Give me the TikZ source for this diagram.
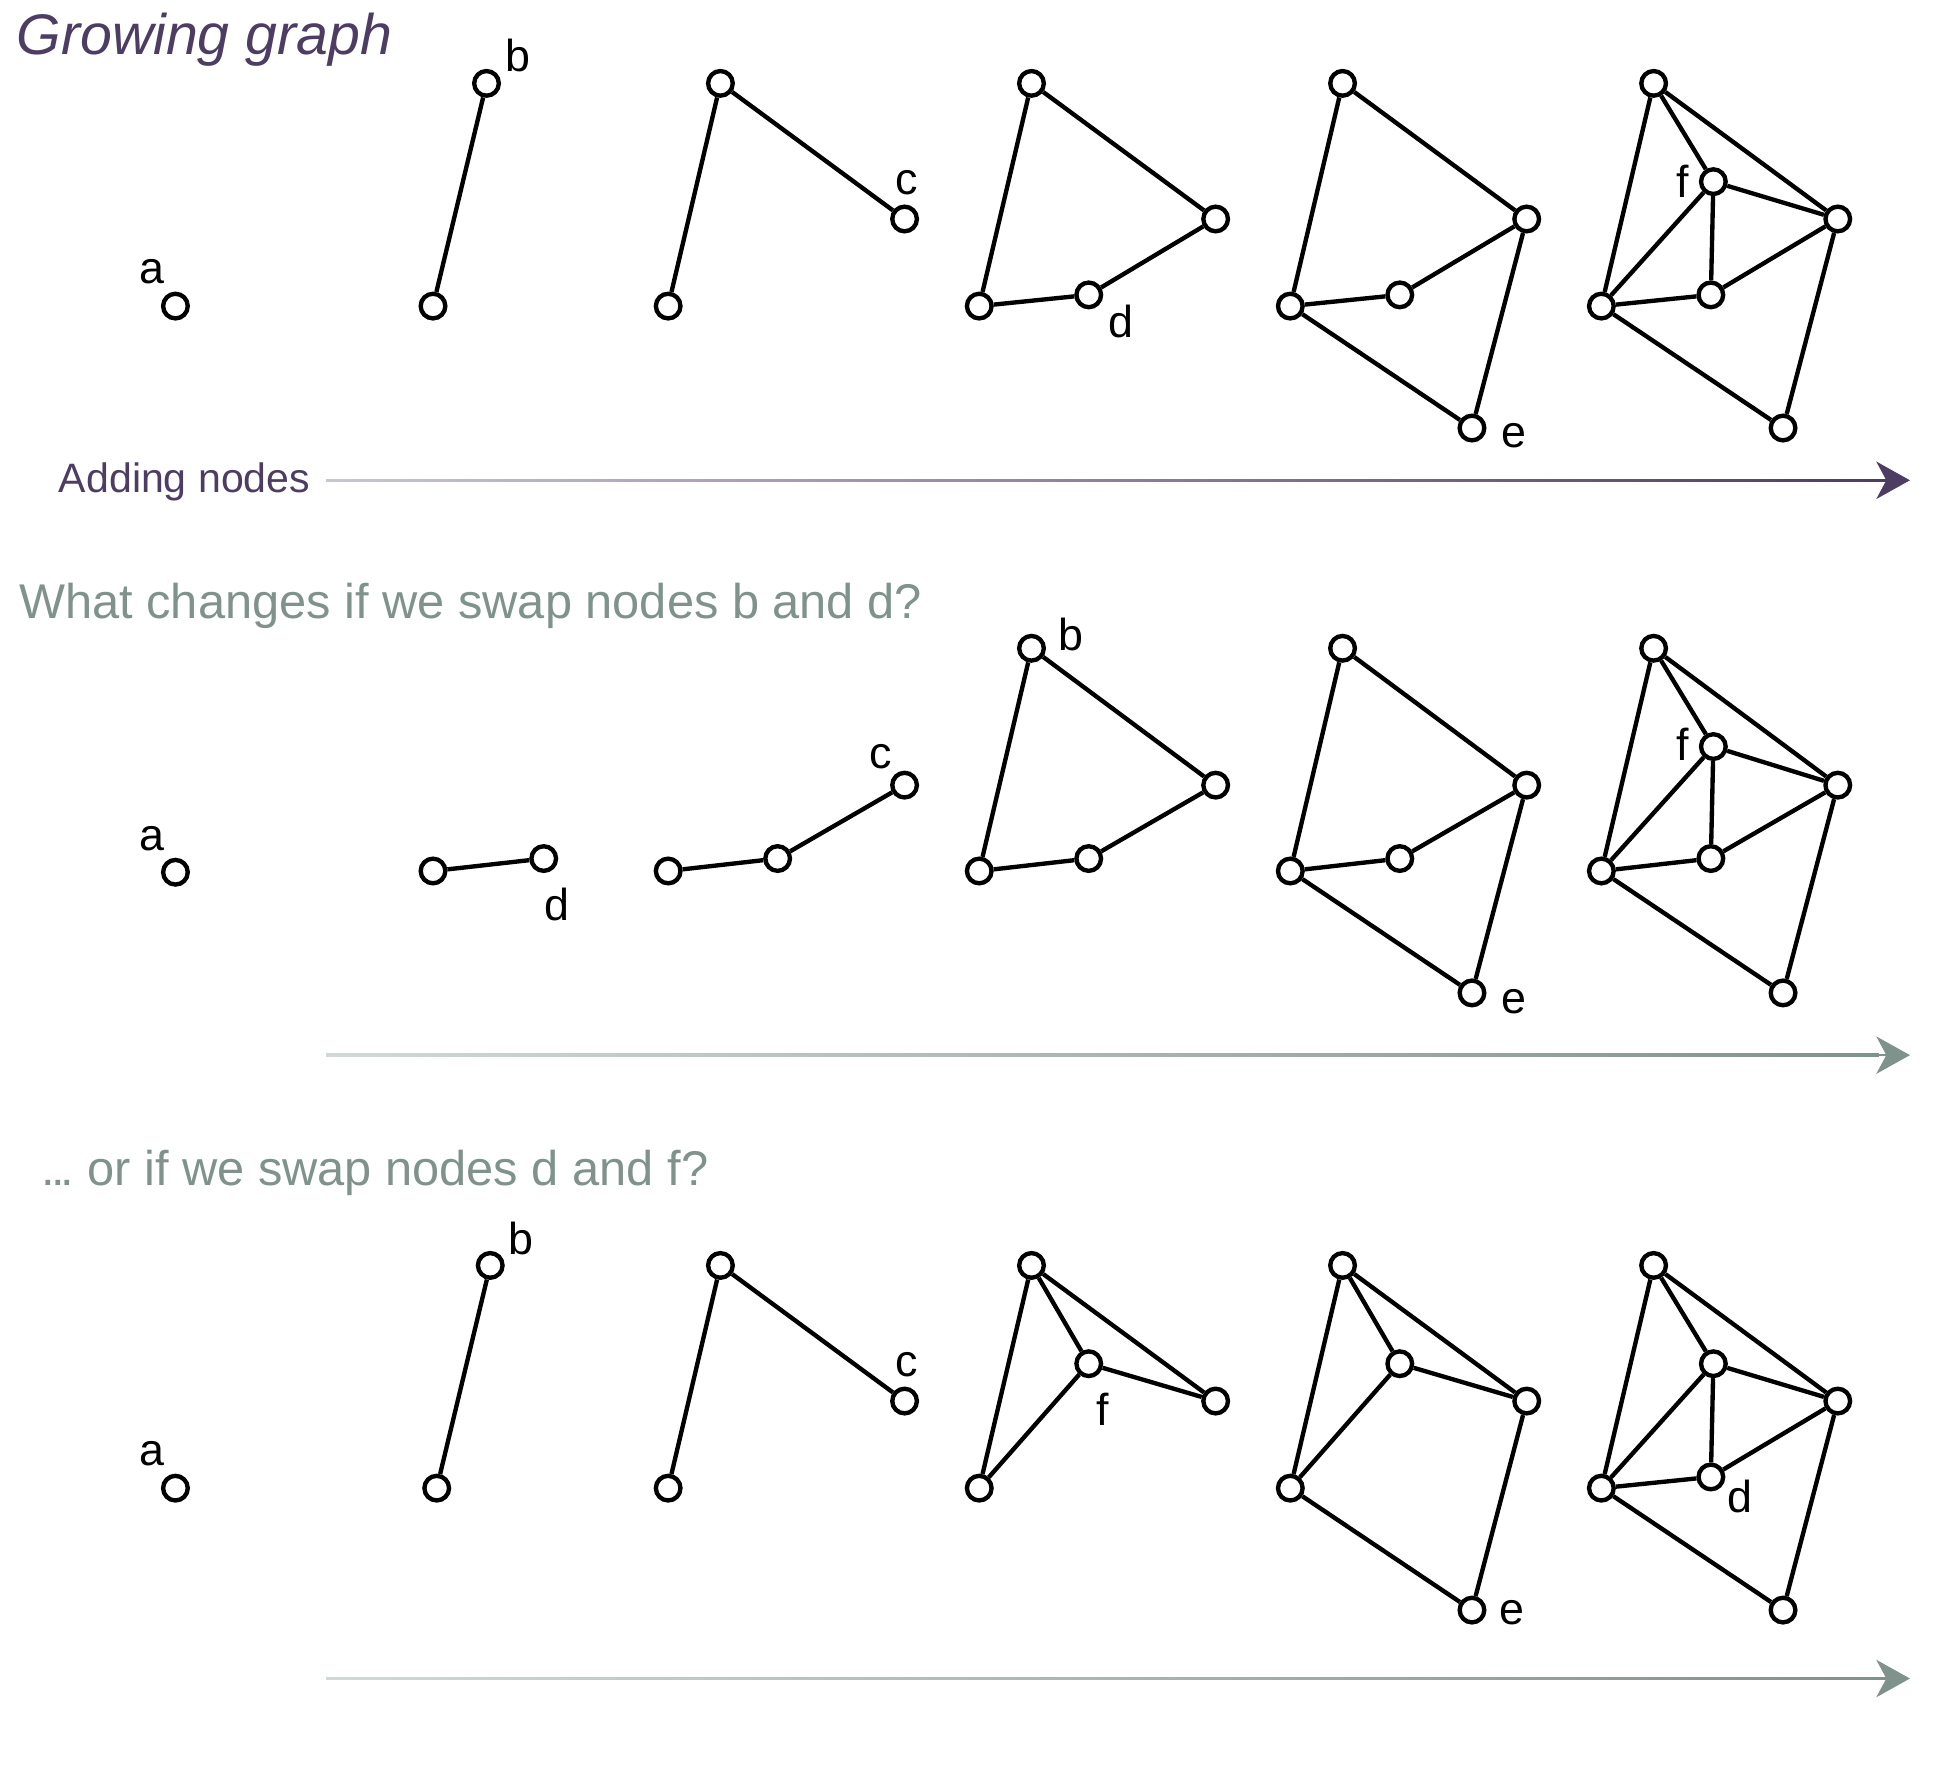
\documentclass[tikz,border=0pt]{standalone}
\usepackage{fontspec}
\setmainfont{Liberation Sans}
\usetikzlibrary{arrows.meta}
\definecolor{purp}{RGB}{78,61,99}
\definecolor{sage}{RGB}{127,146,139}
\begin{document}
\begin{tikzpicture}[x=0.5pt,y=-0.5pt,
  vtx/.style={circle,draw=black,line width=1.75pt,minimum size=9.9pt,inner sep=0pt,fill=white},
  lbl/.style={inner sep=0pt,font=\fontsize{18}{20}\selectfont},
  edg/.style={line width=1.75pt,black},
  ttl/.style={inner sep=0pt,anchor=base west},
  arr/.style={line width=1pt,-{Stealth[length=13.5pt,width=15pt,inset=4pt]}}]
\useasboundingbox (0,0) rectangle (1568,1423);

% ---------- texts
\node[ttl,purp,font=\fontsize{23}{26}\selectfont\itshape] (title) at (13,44) {Growing graph};
\node[ttl,purp,font=\fontsize{16.5}{20}\selectfont] (adding) at (47,396) {Adding nodes};
\node[ttl,sage,font=\fontsize{19.6}{23}\selectfont] (q1) at (15,497) {What changes if we swap nodes b and d?};
\node[ttl,sage,font=\fontsize{19.6}{23}\selectfont] (q2) at (33,953) {.\kern-1.6pt.\kern-1.6pt.\kern-2pt{} or if we swap nodes d and f?};

% ---------- arrows
\coordinate (s1) at (262,386); \coordinate (m1) at (1505,386); \coordinate (t1) at (1535,386);
\coordinate (s2) at (262,848); \coordinate (m2) at (1505,848); \coordinate (t2) at (1535,848);
\coordinate (s3) at (262,1349); \coordinate (m3) at (1505,1349); \coordinate (t3) at (1535,1349);
\shade[left color=purp!30,right color=purp] (262,385) rectangle (1510,387);
\draw[arr,purp] (m1) -- (t1);
\shade[left color=sage!35,right color=sage] (262,847) rectangle (1510,849);
\draw[arr,sage] (m2) -- (t2);
\shade[left color=sage!35,right color=sage] (262,1348) rectangle (1510,1350);
\draw[arr,sage] (m3) -- (t3);

% ================= ROW 1
\node[vtx] (r1a) at (141,246) {};
\node[lbl] (r1la) at (122,218) {a};
% panel 2
\node[vtx] (r1p2x) at (348,246) {};
\node[vtx] (r1p2b) at (391,67) {};
\node[lbl] (r1lb) at (416,45) {b};
\draw[edg] (r1p2x) -- (r1p2b);
% panel 3
\node[vtx] (r1p3x) at (537,246) {};
\node[vtx] (r1p3b) at (579,67) {};
\node[vtx] (r1p3c) at (727,176) {};
\node[lbl] (r1lc) at (729,147) {c};
\draw[edg] (r1p3x) -- (r1p3b) -- (r1p3c);
% panel 4
\node[vtx] (r1p4x) at (787,246) {};
\node[vtx] (r1p4b) at (829,67) {};
\node[vtx] (r1p4c) at (977,176) {};
\node[vtx] (r1p4d) at (875,237) {};
\node[lbl] (r1ld) at (901,258) {d};
\draw[edg] (r1p4x) -- (r1p4b) -- (r1p4c) -- (r1p4d) -- (r1p4x);
% panel 5
\node[vtx] (r1p5x) at (1037,246) {};
\node[vtx] (r1p5b) at (1079,67) {};
\node[vtx] (r1p5c) at (1227,176) {};
\node[vtx] (r1p5d) at (1125,237) {};
\node[vtx] (r1p5e) at (1183,344) {};
\node[lbl] (r1le) at (1217,350) {e};
\draw[edg] (r1p5x) -- (r1p5b) -- (r1p5c) -- (r1p5d) -- (r1p5x) -- (r1p5e) -- (r1p5c);
% panel 6
\node[vtx] (r1p6x) at (1287,246) {};
\node[vtx] (r1p6b) at (1329,67) {};
\node[vtx] (r1p6c) at (1477,176) {};
\node[vtx] (r1p6d) at (1375,237) {};
\node[vtx] (r1p6e) at (1433,344) {};
\node[vtx] (r1p6f) at (1377,146) {};
\node[lbl] (r1lf) at (1352,146) {f};
\draw[edg] (r1p6x) -- (r1p6b) -- (r1p6c) -- (r1p6d) -- (r1p6x) -- (r1p6e) -- (r1p6c);
\draw[edg] (r1p6b) -- (r1p6f) -- (r1p6c);
\draw[edg] (r1p6x) -- (r1p6f) -- (r1p6d);

% ================= ROW 2
\node[vtx] (r2a) at (141,701) {};
\node[lbl] (r2la) at (122,674) {a};
% panel 2
\node[vtx] (r2p2x) at (348,700) {};
\node[vtx] (r2p2d) at (437,690) {};
\node[lbl] (r2ld) at (448,727) {d};
\draw[edg] (r2p2x) -- (r2p2d);
% panel 3
\node[vtx] (r2p3x) at (537,700) {};
\node[vtx] (r2p3d) at (625,690) {};
\node[vtx] (r2p3c) at (727,631) {};
\node[lbl] (r2lc) at (708,608) {c};
\draw[edg] (r2p3x) -- (r2p3d) -- (r2p3c);
% panel 4
\node[vtx] (r2p4x) at (787,700) {};
\node[vtx] (r2p4d) at (875,690) {};
\node[vtx] (r2p4c) at (977,631) {};
\node[vtx] (r2p4b) at (829,521) {};
\node[lbl] (r2lb) at (861,510) {b};
\draw[edg] (r2p4x) -- (r2p4b) -- (r2p4c) -- (r2p4d) -- (r2p4x);
% panel 5
\node[vtx] (r2p5x) at (1037,700) {};
\node[vtx] (r2p5d) at (1125,690) {};
\node[vtx] (r2p5c) at (1227,631) {};
\node[vtx] (r2p5b) at (1079,521) {};
\node[vtx] (r2p5e) at (1183,798) {};
\node[lbl] (r2le) at (1217,805) {e};
\draw[edg] (r2p5x) -- (r2p5b) -- (r2p5c) -- (r2p5d) -- (r2p5x) -- (r2p5e) -- (r2p5c);
% panel 6
\node[vtx] (r2p6x) at (1287,700) {};
\node[vtx] (r2p6d) at (1375,690) {};
\node[vtx] (r2p6c) at (1477,631) {};
\node[vtx] (r2p6b) at (1329,521) {};
\node[vtx] (r2p6e) at (1433,798) {};
\node[vtx] (r2p6f) at (1377,600) {};
\node[lbl] (r2lf) at (1352,598) {f};
\draw[edg] (r2p6x) -- (r2p6b) -- (r2p6c) -- (r2p6d) -- (r2p6x) -- (r2p6e) -- (r2p6c);
\draw[edg] (r2p6b) -- (r2p6f) -- (r2p6c);
\draw[edg] (r2p6x) -- (r2p6f) -- (r2p6d);

% ================= ROW 3
\node[vtx] (r3a) at (141,1196) {};
\node[lbl] (r3la) at (122,1168) {a};
% panel 2
\node[vtx] (r3p2x) at (351,1196) {};
\node[vtx] (r3p2b) at (394,1017) {};
\node[lbl] (r3lb) at (419,995) {b};
\draw[edg] (r3p2x) -- (r3p2b);
% panel 3
\node[vtx] (r3p3x) at (537,1196) {};
\node[vtx] (r3p3b) at (579,1017) {};
\node[vtx] (r3p3c) at (727,1126) {};
\node[lbl] (r3lc) at (729,1097) {c};
\draw[edg] (r3p3x) -- (r3p3b) -- (r3p3c);
% panel 4
\node[vtx] (r3p4x) at (787,1196) {};
\node[vtx] (r3p4b) at (829,1017) {};
\node[vtx] (r3p4c) at (977,1126) {};
\node[vtx] (r3p4f) at (875,1096) {};
\node[lbl] (r3lf) at (886,1133) {f};
\draw[edg] (r3p4x) -- (r3p4b) -- (r3p4c) -- (r3p4f) -- (r3p4x);
\draw[edg] (r3p4b) -- (r3p4f);
% panel 5
\node[vtx] (r3p5x) at (1037,1196) {};
\node[vtx] (r3p5b) at (1079,1017) {};
\node[vtx] (r3p5c) at (1227,1126) {};
\node[vtx] (r3p5f) at (1125,1096) {};
\node[vtx] (r3p5e) at (1183,1294) {};
\node[lbl] (r3le) at (1215,1296) {e};
\draw[edg] (r3p5x) -- (r3p5b) -- (r3p5c) -- (r3p5f) -- (r3p5x) -- (r3p5e) -- (r3p5c);
\draw[edg] (r3p5b) -- (r3p5f);
% panel 6
\node[vtx] (r3p6x) at (1287,1196) {};
\node[vtx] (r3p6b) at (1329,1017) {};
\node[vtx] (r3p6c) at (1477,1126) {};
\node[vtx] (r3p6f) at (1377,1096) {};
\node[vtx] (r3p6d) at (1375,1187) {};
\node[vtx] (r3p6e) at (1433,1294) {};
\node[lbl] (r3ld) at (1398,1203) {d};
\draw[edg] (r3p6x) -- (r3p6b) -- (r3p6c) -- (r3p6f) -- (r3p6x) -- (r3p6e) -- (r3p6c);
\draw[edg] (r3p6b) -- (r3p6f) -- (r3p6d);
\draw[edg] (r3p6x) -- (r3p6d) -- (r3p6c);
\end{tikzpicture}
\end{document}
